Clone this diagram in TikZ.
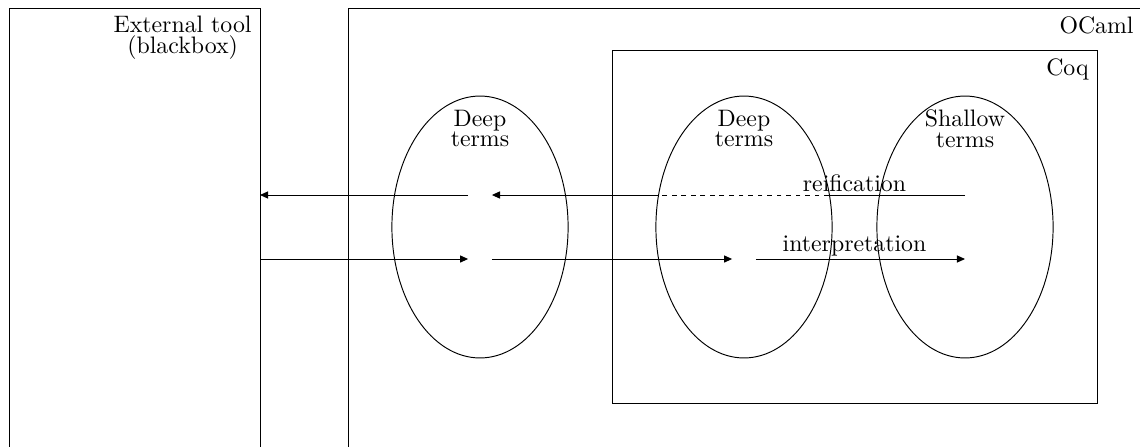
\documentclass[tikz,border=0pt]{standalone}
\usepackage{tikz}
\usetikzlibrary{arrows.meta}
\usetikzlibrary{shapes.geometric}
\usetikzlibrary{positioning}
\def\tightlines{\fontsize{10}{8.6}\selectfont\lineskiplimit=-5pt\relax}

\begin{document}
\begin{tikzpicture}[x=0.42pt,y=-0.42pt,>={Triangle[length=3.4pt,width=3pt]},
		thin,
		box/.style={draw},
		terms/.style={ellipse,draw,inner sep=0pt,minimum width=74pt,minimum height=110pt},
		lbl/.style={align=center,font=\tightlines},
		edgelbl/.style={above,inner sep=1pt},
		hidden/.style={dash pattern=on 2pt off 2pt}]
		\useasboundingbox (0,0) rectangle (1140,446);
		\clip (0,0) rectangle (1140,446);
		
		\draw[box] (9,8) coordinate (extNW) rectangle (260,470) coordinate (extSE);
		\draw[box] (348,8) coordinate (ocamlNW) rectangle (1142,470) coordinate (ocamlSE);
		\draw[box] (612,50) coordinate (coqNW) rectangle (1097,403) coordinate (coqSE);
		
		\node[lbl,anchor=north east] (extlbl) at (extSE |- extNW) {External tool\\(blackbox)};
		\node[lbl,anchor=north east] (ocamllbl) at (ocamlSE |- ocamlNW) {OCaml};
		\node[lbl,anchor=north east] (coqlbl) at (coqSE |- coqNW) {Coq};
		
		\node[terms] (ldeep) at (480,227) {};
		\node[terms] (cdeep) at (744,227) {};
		\node[terms] (cshallow) at (965,227) {};
		
		\node[lbl,below=2.5pt of ldeep.north] (ldeeplbl) {Deep\\terms};
		\node[lbl,below=2.5pt of cdeep.north] (cdeeplbl) {Deep\\terms};
		\node[lbl,below=2.5pt of cshallow.north] (cshallowlbl) {Shallow\\terms};
		
		\coordinate (up) at (0,195);
		\coordinate (dn) at (0,259);
		\path (cdeep.center |- up) +(-85,0) coordinate (dl) +(85,0) coordinate (dr);
		
		\path (cdeep.center |- up) -- node[edgelbl] {reification} (cshallow.center |- up);
		\draw (cshallow.center |- up) -- (dr);
		\draw[hidden] (dr) -- (dl);
		\draw[->,shorten >=5pt] (dl) -- (ldeep.center |- up);
		\draw[->,shorten <=5pt] (ldeep.center |- up) -- (extSE |- up);
		
		\draw[->,shorten >=5pt] (extSE |- dn) -- (ldeep.center |- dn);
		\draw[->,shorten <=5pt,shorten >=5pt] (ldeep.center |- dn) -- (cdeep.center |- dn);
		\draw[->,shorten <=5pt] (cdeep.center |- dn) -- node[edgelbl] {interpretation} (cshallow.center |- dn);
\end{tikzpicture}
\end{document}
